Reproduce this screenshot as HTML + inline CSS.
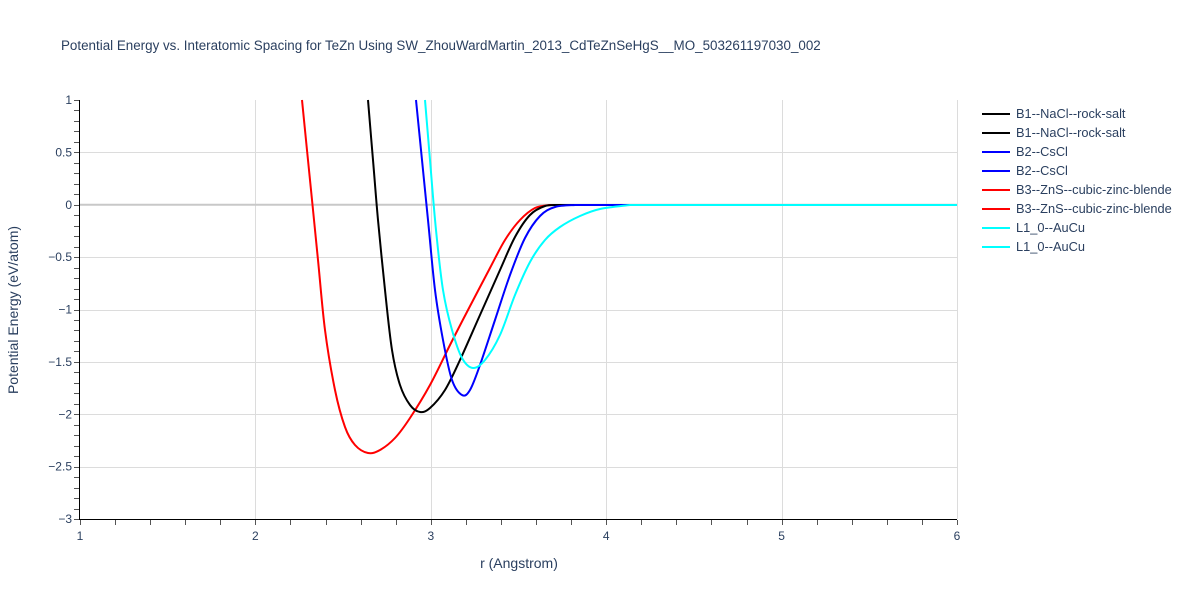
<!DOCTYPE html>
<html><head><meta charset="utf-8"><style>
body{margin:0;background:#fff;}
svg text{font-family:"Liberation Sans",Arial,sans-serif;fill:#2a3f5f;}
</style></head><body>
<svg id="s" width="1200" height="600" xmlns="http://www.w3.org/2000/svg">
<rect width="1200" height="600" fill="#fff"/>
<text x="61" y="50" font-size="13.4">Potential Energy vs. Interatomic Spacing for TeZn Using SW_ZhouWardMartin_2013_CdTeZnSeHgS__MO_503261197030_002</text>
<g id="grid" stroke="#dcdcdc" stroke-width="1"></g>
<line x1="80" y1="204.75" x2="957" y2="204.75" stroke="#c8c8c8" stroke-width="2"/>
<g id="ticks" stroke="#555" stroke-width="1"></g>
<line x1="79.5" y1="100" x2="79.5" y2="520" stroke="#000" stroke-width="1"/>
<line x1="79" y1="519.5" x2="957" y2="519.5" stroke="#000" stroke-width="1"/>
<g id="labels" font-size="12"></g>
<text x="519" y="568" font-size="14" text-anchor="middle">r (Angstrom)</text>
<text transform="translate(18,310) rotate(-90)" font-size="14" text-anchor="middle">Potential Energy (eV/atom)</text>
<g id="curves" fill="none" stroke-width="2" stroke-linejoin="round">
<polyline stroke="#ff0000" points="302,100 310,180 318,260 325,330 335,390 345,427 355,445 368,453 380,450 395,438 410,418 430,385 450,345 468,310 490,268 505,240 520,220 535,208 550,205 957,205"/>
<polyline stroke="#000000" points="368,100 373,160 378,220 385,290 392,350 400,385 410,405 420,412 430,408 445,390 460,360 480,315 500,270 515,237 530,215 545,206 560,205 957,205"/>
<polyline stroke="#0000ff" points="416,100 422,160 428,220 435,290 443,340 452,380 462,395 470,390 480,365 495,320 510,275 525,238 540,216 555,207 575,205 957,205"/>
<polyline stroke="#00ffff" points="425,100 430,160 436,230 443,290 452,330 462,358 473,368 485,360 500,335 515,295 530,262 545,240 560,227 580,216 600,209 630,205 957,205"/>
</g>
<g font-size="12.8">
<line x1="982" y1="114" x2="1010" y2="114" stroke="#000" stroke-width="2"/><text x="1016" y="118">B1--NaCl--rock-salt</text>
<line x1="982" y1="133" x2="1010" y2="133" stroke="#000" stroke-width="2"/><text x="1016" y="137">B1--NaCl--rock-salt</text>
<line x1="982" y1="152" x2="1010" y2="152" stroke="#0000ff" stroke-width="2"/><text x="1016" y="156">B2--CsCl</text>
<line x1="982" y1="171" x2="1010" y2="171" stroke="#0000ff" stroke-width="2"/><text x="1016" y="175">B2--CsCl</text>
<line x1="982" y1="190" x2="1010" y2="190" stroke="#ff0000" stroke-width="2"/><text x="1016" y="194">B3--ZnS--cubic-zinc-blende</text>
<line x1="982" y1="209" x2="1010" y2="209" stroke="#ff0000" stroke-width="2"/><text x="1016" y="213">B3--ZnS--cubic-zinc-blende</text>
<line x1="982" y1="228" x2="1010" y2="228" stroke="#00ffff" stroke-width="2"/><text x="1016" y="232">L1_0--AuCu</text>
<line x1="982" y1="247" x2="1010" y2="247" stroke="#00ffff" stroke-width="2"/><text x="1016" y="251">L1_0--AuCu</text>
</g>
</svg>
<script>
var ns="http://www.w3.org/2000/svg";
function el(p,t,a,txt){var e=document.createElementNS(ns,t);for(var k in a)e.setAttribute(k,a[k]);if(txt!==undefined)e.textContent=txt;document.getElementById(p).appendChild(e);}
function X(r){return 80+(r-1)*175.4;}
function Y(v){return 204.75-v*104.75;}
for(var r=2;r<=6;r++){var x=Math.round(X(r))+0.5;el("grid","line",{x1:x,y1:100,x2:x,y2:519});}
for(var r=1;r<=6;r++){el("labels","text",{x:X(r),y:540,"text-anchor":"middle"},String(r));}
for(var r=1;r<=6.001;r+=0.2){var x=Math.round(X(r))+0.5;el("ticks","line",{x1:x,y1:520,x2:x,y2:525});}
var ys=[1,0.5,0,-0.5,-1,-1.5,-2,-2.5,-3];
ys.forEach(function(v){var y=Math.round(Y(v))+0.5;if(v!==0&&v!==1&&v!==-3)el("grid","line",{x1:80,y1:y,x2:957,y2:y});
el("labels","text",{x:72,y:Y(v)+4,"text-anchor":"end"},String(v).replace("-","\u2212"));});
for(var i=0;i<=40;i++){var v=1-i*0.1;var y=Math.round(Y(v))+0.5;el("ticks","line",{x1:74,y1:y,x2:79,y2:y});}
Array.prototype.slice.call(document.querySelectorAll("#curves polyline")).forEach(function(pl){
 var p=pl.getAttribute("points").trim().split(/\s+/).map(function(s){return s.split(",").map(Number);});
 var d="M"+p[0][0]+","+p[0][1];
 for(var i=0;i<p.length-1;i++){var p1=p[i],p2=p[i+1];
  if(p2[0]-p1[0]>40){d+=" L"+p2[0]+","+p2[1];continue;}
  var p0=p[i-1]||p1; var p3=(p[i+2]&&p[i+2][0]-p2[0]<=40)?p[i+2]:p2;
  var c1x=p1[0]+(p2[0]-p0[0])/6,c1y=p1[1]+(p2[1]-p0[1])/6,c2x=p2[0]-(p3[0]-p1[0])/6,c2y=p2[1]-(p3[1]-p1[1])/6;
  d+=" C"+c1x.toFixed(1)+","+c1y.toFixed(1)+" "+c2x.toFixed(1)+","+c2y.toFixed(1)+" "+p2[0]+","+p2[1];}
 var path=document.createElementNS(ns,"path");path.setAttribute("d",d);path.setAttribute("stroke",pl.getAttribute("stroke"));
 pl.parentNode.replaceChild(path,pl);});
</script>
</body></html>
